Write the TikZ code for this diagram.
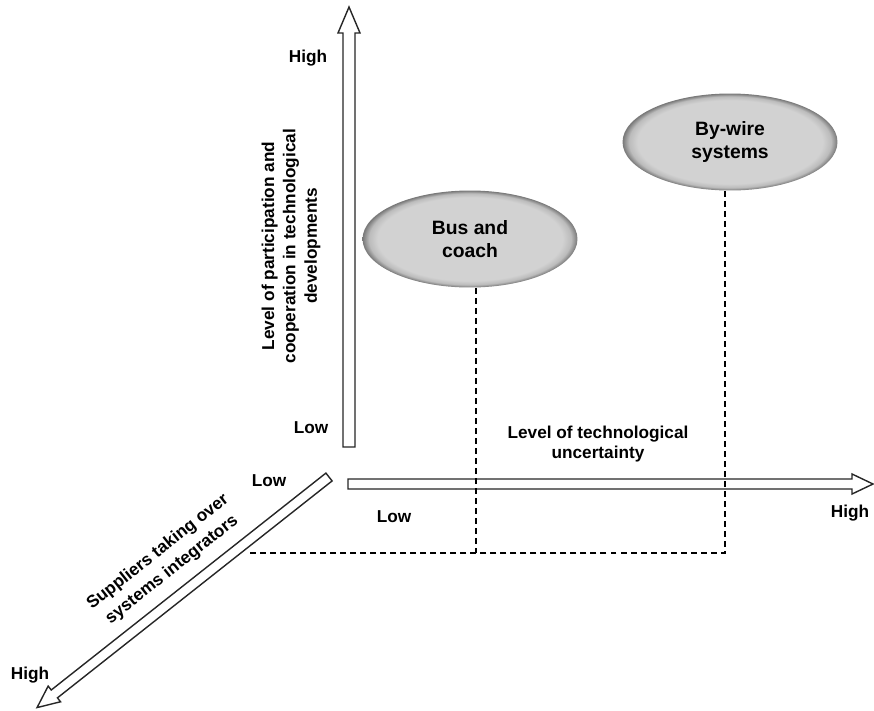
\documentclass[tikz,border=0pt]{standalone}
\usepackage{fontspec}
\setmainfont{Liberation Sans}
\usepackage{tikz}
\usetikzlibrary{shapes.geometric}
\definecolor{ellfill}{RGB}{210,210,210}
\definecolor{ellrim}{RGB}{120,120,120}
\pgfdeclareradialshading{bevel}{\pgfpoint{0bp}{0bp}}{color(0bp)=(ellfill); color(21.5bp)=(ellfill); color(23.5bp)=(ellfill!75!ellrim); color(25bp)=(ellrim); color(50bp)=(ellrim)}

\begin{document}
\begin{tikzpicture}[x=0.02cm,y=-0.02cm,
  lbl/.style={font=\fontsize{9.8}{11.5}\selectfont\bfseries, align=center, inner sep=0pt},
  blob/.style={ellipse, shade, shading=bevel, minimum width=4.3cm, minimum height=1.94cm,
    inner sep=0pt, align=center, font=\fontsize{11}{12.8}\selectfont\bfseries},
  hollow/.style={draw=black!85, fill=white, line width=0.8pt, line join=miter},
  guide/.style={draw=black, line width=0.6pt, dash pattern=on 3.4pt off 2.3pt}]
\useasboundingbox (0,0) rectangle (874,710);

% vertical axis
\begin{scope}[shift={(349,447)},rotate=90]
\draw[hollow] (0,-6) -- (414,-6) -- (414,-11) -- (440,0) -- (414,11) -- (414,6) -- (0,6) -- cycle;
\end{scope}
\node[lbl] (vhigh) at (308,58) {High};
\node[lbl] (vlow) at (311,428) {Low};
\node[lbl,rotate=90,font=\fontsize{9.8}{12.2}\selectfont\bfseries] (vtitle) at (291,246)
  {Level of participation and\\cooperation in technological\\developments};

% horizontal axis
\begin{scope}[shift={(348,484)}]
\draw[hollow] (0,-5) -- (504,-5) -- (504,-10) -- (525,0) -- (504,10) -- (504,5) -- (0,5) -- cycle;
\end{scope}
\node[lbl] (htitle) at (598,444) {Level of technological\\uncertainty};
\node[lbl] (hlow) at (394,517) {Low};
\node[lbl] (hhigh) at (850,513) {High};

% diagonal axis
\begin{scope}[shift={(329,477)},rotate=218.3]
\draw[hollow] (0,-5) -- (350,-5) -- (350,-10) -- (372,0) -- (350,10) -- (350,5) -- (0,5) -- cycle;
\end{scope}
\node[lbl] (dlow) at (269,481) {Low};
\node[lbl] (dhigh) at (30,675) {High};
\node[lbl,rotate=38.3,font=\fontsize{9.8}{12.9}\selectfont\bfseries] (dtitle) at (165,561)
  {Suppliers taking over\\systems integrators};

% sectors
\node[blob] (bus) at (470,239) {Bus and\\coach};
\node[blob] (bywire) at (730,142) {By-wire\\systems};

\coordinate (busfoot) at (476,553);
\coordinate (wirefoot) at (725,553);
\coordinate (leftend) at (250,553);
\draw[guide] (476,0 |- bus.south) -- (busfoot);
\draw[guide] (725,0 |- bywire.south) -- (wirefoot) -- (leftend);
\end{tikzpicture}
\end{document}
